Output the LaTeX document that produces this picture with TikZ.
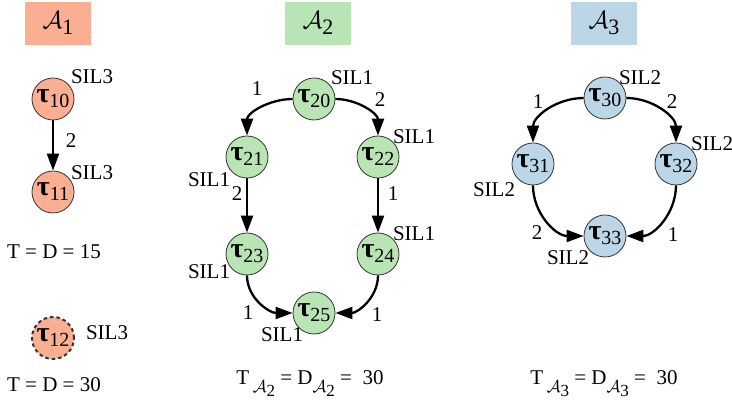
\documentclass[tikz,border=0pt]{standalone}
\usepackage{fontspec}
\setmainfont{Liberation Serif}
\usetikzlibrary{arrows.meta}
\definecolor{csalmon}{HTML}{FAAF92}
\definecolor{cgreen}{HTML}{B9E5B4}
\definecolor{cblue}{HTML}{BBD7E7}
\newcommand{\tk}[1]{{\fontsize{28}{28}\selectfont\bfseries τ}\raisebox{-5pt}{\fontsize{20}{20}\selectfont #1}}
\newcommand{\ca}[1]{{\fontsize{26}{26}\selectfont$\mathcal{A}$}\raisebox{-6pt}{\fontsize{22}{22}\selectfont #1}}
\newcommand{\cs}[1]{\raisebox{-8pt}{{\fontsize{19}{19}\selectfont$\mathcal{A}$}\raisebox{-4pt}{\fontsize{17}{17}\selectfont #1}}}
\begin{document}
\begin{tikzpicture}[x=1pt,y=-1pt,
  every node/.style={font=\fontsize{21}{23}\selectfont},
  task/.style={circle,draw=black!80,line width=0.8pt,minimum size=42pt,inner sep=0pt},
  hdr/.style={minimum width=66pt,minimum height=43pt,inner sep=0pt},
  arr/.style={-{Triangle[length=17pt,width=12pt]},line width=2.3pt},
  lbl/.style={inner sep=0pt}]
\useasboundingbox (0,0) rectangle (732,411);
% headers
\node[hdr,fill=csalmon] (h1) at (58,23.5) {\ca{1}};
\node[hdr,fill=cgreen] (h2) at (318,23.5) {\ca{2}};
\node[hdr,fill=cblue] (h3) at (604,23.5) {\ca{3}};
% A1
\node[task,fill=csalmon] (t10) at (53,99) {\tk{10}};
\node[task,fill=csalmon] (t11) at (53,192) {\tk{11}};
\node[task,fill=csalmon,line width=2pt,dash pattern=on 3.5pt off 3pt] (t12) at (53,338) {\tk{12}};
\node[lbl] (s10) at (92,77) {SIL3};
\node[lbl] (s11) at (92,173) {SIL3};
\node[lbl] (s12) at (107,333) {SIL3};
\draw[arr] (t10) -- (t11);
\node[lbl] (e1) at (71,141) {2};
\node[lbl] (p1) at (54,252) {T = D = 15};
\node[lbl] (p2) at (54,385) {T = D = 30};
% A2
\node[task,fill=cgreen] (t20) at (314,99) {\tk{20}};
\node[task,fill=cgreen] (t21) at (247,157) {\tk{21}};
\node[task,fill=cgreen] (t22) at (378,157) {\tk{22}};
\node[task,fill=cgreen] (t23) at (247,254) {\tk{23}};
\node[task,fill=cgreen] (t24) at (378,254) {\tk{24}};
\node[task,fill=cgreen] (t25) at (314,313) {\tk{25}};
\node[lbl] (s20) at (352,78) {SIL1};
\node[lbl] (s21) at (209,180) {SIL1};
\node[lbl] (s22) at (414,137) {SIL1};
\node[lbl] (s23) at (209,272) {SIL1};
\node[lbl] (s24) at (414,234) {SIL1};
\node[lbl] (s25) at (282,335) {SIL1};
\draw[arr] (t20.west) to[out=180,in=90] (t21.north);
\draw[arr] (t20.east) to[out=0,in=90] (t22.north);
\draw[arr] (t21) -- (t23);
\draw[arr] (t22) -- (t24);
\draw[arr] (t23.south) to[out=-90,in=180] (t25.west);
\draw[arr] (t24.south) to[out=-90,in=0] (t25.east);
\node[lbl] (e20) at (257,89) {1};
\node[lbl] (e21) at (380,100) {2};
\node[lbl] (e22) at (237,194) {2};
\node[lbl] (e23) at (393,194) {1};
\node[lbl] (e24) at (248,313) {1};
\node[lbl] (e25) at (377,315) {1};
\node[lbl] (p3) at (310,384) {T\,\cs{2} = D\cs{2} =\ \ 30};
% A3
\node[task,fill=cblue] (t30) at (605,98) {\tk{30}};
\node[task,fill=cblue] (t31) at (533,164) {\tk{31}};
\node[task,fill=cblue] (t32) at (676,164) {\tk{32}};
\node[task,fill=cblue] (t33) at (605,236) {\tk{33}};
\node[lbl] (s30) at (640,78) {SIL2};
\node[lbl] (s31) at (494,190) {SIL2};
\node[lbl] (s32) at (712,144) {SIL2};
\node[lbl] (s33) at (568,258) {SIL2};
\draw[arr] (t30.west) to[out=180,in=90] (t31.north);
\draw[arr] (t30.east) to[out=0,in=90] (t32.north);
\draw[arr] (t31.south) to[out=-90,in=180] (t33.west);
\draw[arr] (t32.south) to[out=-90,in=0] (t33.east);
\node[lbl] (e30) at (538,102) {1};
\node[lbl] (e31) at (672,102) {2};
\node[lbl] (e32) at (537,233) {2};
\node[lbl] (e33) at (673,235) {1};
\node[lbl] (p4) at (604,384) {T\,\cs{3} = D\cs{3} =\ \ 30};
\end{tikzpicture}
\end{document}
